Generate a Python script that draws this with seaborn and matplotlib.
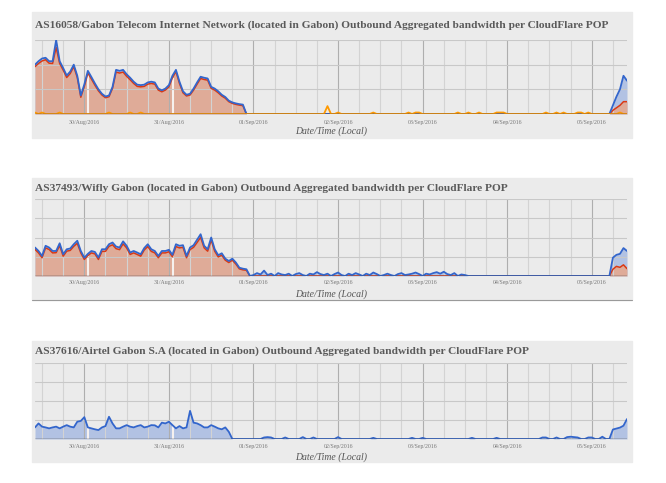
import matplotlib
matplotlib.use("Agg")
import matplotlib.pyplot as plt
import matplotlib.dates as mdates
from matplotlib.patches import Rectangle
import seaborn as sns
import numpy as np
import pandas as pd

# hourly samples, 29/Aug/2016 10:00 -> 05/Sep/2016 10:00 (local time)
start = "2016-08-29 10:00"
n_hours = 169

titles = [
    "AS16058/Gabon Telecom Internet Network (located in Gabon) Outbound Aggregated bandwidth per CloudFlare POP",
    "AS37493/Wifly Gabon (located in Gabon) Outbound Aggregated bandwidth per CloudFlare POP",
    "AS37616/Airtel Gabon S.A (located in Gabon) Outbound Aggregated bandwidth per CloudFlare POP",
]

# values are in "gridline" units (no y labels in the original)
# --- AS16058 Gabon Telecom ---
telecom_blue_head = [2.00, 2.14, 2.25, 2.28, 2.14, 2.14, 3.00, 2.14, 1.86, 1.56,
                     1.72, 2.00, 1.55, 0.75, 1.20, 1.75, 1.50, 1.24, 1.00, 0.82,
                     0.71, 0.75, 1.10, 1.79, 1.75, 1.79, 1.61, 1.47, 1.31, 1.19,
                     1.17, 1.19, 1.28, 1.31, 1.28, 1.03, 0.96, 1.03, 1.17, 1.55,
                     1.79, 1.31, 0.92, 0.78, 0.82, 1.03, 1.28, 1.51, 1.47, 1.44,
                     1.10, 1.03, 0.92, 0.78, 0.69, 0.54, 0.47, 0.43, 0.40, 0.38,
                     0.0]
telecom_red_head = [1.92, 2.05, 2.15, 2.20, 2.06, 2.05, 2.70, 2.05, 1.78, 1.48,
                    1.64, 1.92, 1.48, 0.68, 1.12, 1.66, 1.42, 1.17, 0.94, 0.77,
                    0.66, 0.70, 1.04, 1.70, 1.66, 1.70, 1.53, 1.39, 1.24, 1.12,
                    1.10, 1.12, 1.21, 1.24, 1.21, 0.97, 0.90, 0.97, 1.10, 1.47,
                    1.72, 1.24, 0.86, 0.73, 0.77, 0.97, 1.21, 1.44, 1.40, 1.37,
                    1.04, 0.97, 0.86, 0.73, 0.64, 0.50, 0.43, 0.39, 0.36, 0.34,
                    0.0]
telecom_blue_tail = [0.0, 0.35, 0.70, 1.00, 1.55, 1.35]
telecom_red_tail = [0.0, 0.15, 0.25, 0.35, 0.50, 0.50]
telecom_orange_hours = [0, 2, 7, 21, 27, 30, 83, 86, 96, 106, 108, 109, 120, 123,
                        126, 131, 132, 133, 145, 148, 150, 154, 155, 157, 166]
telecom_orange_vals = [0.06, 0.06, 0.06, 0.06, 0.06, 0.06, 0.32, 0.06, 0.06, 0.06,
                       0.06, 0.06, 0.06, 0.06, 0.06, 0.06, 0.06, 0.06, 0.06, 0.06,
                       0.06, 0.06, 0.06, 0.06, 0.06]

# --- AS37493 Wifly Gabon ---
wifly_blue_head = [1.48, 1.30, 1.04, 1.57, 1.48, 1.30, 1.30, 1.70, 1.13, 1.39,
                   1.43, 1.65, 1.83, 1.30, 0.95, 1.15, 1.30, 1.25, 0.96, 1.39,
                   1.39, 1.65, 1.74, 1.53, 1.48, 1.80, 1.57, 1.22, 1.30, 1.22,
                   1.13, 1.45, 1.65, 1.39, 1.30, 1.04, 1.30, 1.30, 1.36, 1.10,
                   1.65, 1.57, 1.60, 1.04, 1.48, 1.60, 1.88, 2.17, 1.57, 1.39,
                   2.00, 1.39, 1.08, 1.18, 0.90, 0.78, 0.90, 0.70, 0.43, 0.38,
                   0.35, 0.0]
wifly_red_head = [1.38, 1.20, 0.95, 1.46, 1.38, 1.20, 1.21, 1.58, 1.03, 1.29,
                  1.33, 1.54, 1.70, 1.20, 0.86, 1.06, 1.20, 1.15, 0.86, 1.28,
                  1.28, 1.54, 1.62, 1.42, 1.37, 1.67, 1.46, 1.12, 1.20, 1.12,
                  1.03, 1.35, 1.53, 1.28, 1.20, 0.95, 1.20, 1.20, 1.26, 1.00,
                  1.53, 1.46, 1.49, 0.95, 1.37, 1.49, 1.74, 2.01, 1.46, 1.29,
                  1.86, 1.29, 0.99, 1.08, 0.82, 0.70, 0.82, 0.62, 0.37, 0.32,
                  0.30, 0.0]
wifly_blue_mid_start = 62
wifly_blue_mid = [0.05, 0.15, 0.08, 0.28, 0.05, 0.12, 0.0, 0.15, 0.08, 0.05,
                  0.12, 0.0, 0.10, 0.15, 0.05, 0.0, 0.12, 0.08, 0.20, 0.10,
                  0.05, 0.12, 0.0, 0.10, 0.18, 0.05, 0.0, 0.12, 0.05, 0.15,
                  0.08, 0.0, 0.12, 0.05, 0.18, 0.10, 0.0, 0.05, 0.12, 0.05,
                  0.0, 0.10, 0.15, 0.05, 0.08, 0.12, 0.18, 0.10, 0.0, 0.12,
                  0.08, 0.15, 0.20, 0.12, 0.22, 0.10, 0.05, 0.15, 0.0, 0.08,
                  0.05, 0.0, 0.0]
wifly_blue_tail = [0.0, 0.95, 1.10, 1.15, 1.45, 1.30]
wifly_red_tail = [0.0, 0.35, 0.50, 0.45, 0.58, 0.38]

# --- AS37616 Airtel Gabon ---
airtel_blue_head = [0.61, 0.82, 0.65, 0.61, 0.56, 0.61, 0.65, 0.56, 0.65, 0.73,
                    0.65, 0.61, 0.91, 0.95, 1.15, 0.61, 0.56, 0.51, 0.47, 0.61,
                    0.68, 1.17, 0.82, 0.56, 0.56, 0.65, 0.73, 0.65, 0.61, 0.68,
                    0.73, 0.61, 0.65, 0.73, 0.72, 0.61, 0.86, 0.82, 0.91, 0.73,
                    0.56, 0.68, 0.56, 0.61, 1.48, 0.86, 0.82, 0.73, 0.61, 0.61,
                    0.73, 0.65, 0.56, 0.51, 0.61, 0.38, 0.0]
airtel_blip_hours = [65, 66, 67, 71, 76, 79, 86, 96, 107, 110, 124, 131, 144, 145,
                     148, 151, 152, 153, 154, 157, 158, 161]
airtel_blip_vals = [0.08, 0.10, 0.08, 0.08, 0.10, 0.08, 0.10, 0.06, 0.06, 0.06, 0.06,
                    0.06, 0.08, 0.08, 0.08, 0.10, 0.12, 0.10, 0.08, 0.08, 0.08, 0.12]
airtel_blue_tail = [0.0, 0.50, 0.55, 0.60, 0.70, 1.05]

# missing-data gaps (hours from start)
gap_hours = [15.1, 39.2]


def series(head=(), tail=(), mid=(), mid_start=0, blip_hours=(), blip_vals=()):
    s = np.zeros(n_hours)
    s[:len(head)] = head
    if len(mid):
        s[mid_start:mid_start + len(mid)] = mid
    if len(tail):
        s[n_hours - len(tail):] = tail
    if len(blip_hours):
        s[list(blip_hours)] = blip_vals
    return s


times = pd.date_range(start, periods=n_hours, freq="h")
hours = np.arange(n_hours)

BLUE, RED, ORANGE = "#3366cc", "#dc3912", "#ff9900"
BLUE_FILL, RED_FILL = "#b2c2e3", "#dfab98"
BG = "#ebebeb"

panels = [
    dict(title=titles[0], n_grid=3,
         blue=series(telecom_blue_head, telecom_blue_tail),
         red=series(telecom_red_head, telecom_red_tail),
         orange=series(blip_hours=telecom_orange_hours, blip_vals=telecom_orange_vals),
         box=(12, 138), plot=(40, 114), title_y=28, tick_y=123, label_y=131),
    dict(title=titles[1], n_grid=4,
         blue=series(wifly_blue_head, wifly_blue_tail, wifly_blue_mid, wifly_blue_mid_start),
         red=series(wifly_red_head, wifly_red_tail),
         orange=None,
         box=(178, 300), plot=(199, 276), title_y=191, tick_y=283, label_y=294),
    dict(title=titles[2], n_grid=4,
         blue=series(airtel_blue_head, airtel_blue_tail,
                     blip_hours=airtel_blip_hours, blip_vals=airtel_blip_vals),
         red=None,
         orange=None,
         box=(341, 462), plot=(363, 439), title_y=354, tick_y=447, label_y=457),
]

sns.set_style("white")
plt.rcParams["font.family"] = ["Liberation Serif", "DejaVu Serif"]

W, H = 666, 483
fig = plt.figure(figsize=(W / 100, H / 100), dpi=100)
fig.patch.set_facecolor("white")

x0, x1 = 35, 627
for p in panels:
    top, bottom = p["plot"]
    btop, bbot = p["box"]
    fig.patches.append(Rectangle((32 / W, 1 - bbot / H), 600 / W, (bbot - btop) / H,
                                 transform=fig.transFigure, color=BG, zorder=-5))
    ax = fig.add_axes([x0 / W, 1 - bottom / H, (x1 - x0) / W, (bottom - top) / H])
    ax.set_facecolor(BG)
    h_px = bottom - top

    ax.fill_between(times, 0, p["blue"], color=BLUE_FILL, lw=0, zorder=1)
    if p["red"] is not None:
        ax.fill_between(times, 0, p["red"], color=RED_FILL, lw=0, zorder=1.1)
    gap_t = pd.to_datetime(start) + pd.to_timedelta(gap_hours, unit="h")
    gap_v = np.interp(gap_hours, hours, p["blue"] if p["red"] is None else p["red"])
    ax.vlines(gap_t, 0, gap_v * 0.97, color="#f6f1ef", lw=1.5, zorder=1.2)

    if p["red"] is not None:
        sns.lineplot(x=times, y=p["red"], color=RED, lw=1.1, ax=ax, zorder=2.1)
    sns.lineplot(x=times, y=p["blue"], color=BLUE, lw=1.3, ax=ax, zorder=2.2)
    if p["orange"] is not None:
        sns.lineplot(x=times, y=p["orange"], color=ORANGE, lw=1.3, ax=ax, zorder=2.3)
    ax.axhline(0, color="#3a3a3a", lw=1.0, zorder=3)

    ax.set_xlim(times[0], times[-1])
    ax.set_ylim(0, p["n_grid"])
    ax.set_yticks(range(p["n_grid"] + 1))
    ax.set_yticklabels([])
    ax.xaxis.set_major_locator(mdates.DayLocator())
    ax.xaxis.set_minor_locator(mdates.HourLocator(byhour=[0, 6, 12, 18]))
    ax.xaxis.set_major_formatter(mdates.DateFormatter("%d/%b/%Y"))
    ax.set_axisbelow("line")
    ax.grid(True, which="major", axis="x", color="#aeaeae", lw=0.8)
    ax.grid(True, which="minor", axis="x", color="#d3d3d3", lw=0.8)
    ax.grid(True, which="major", axis="y", color="#c8c8c8", lw=0.8)
    ax.tick_params(which="both", length=0)
    ax.tick_params(axis="x", labelsize=4.2, labelcolor="#777777",
                   pad=(p["tick_y"] - bottom - 3) * 0.72)
    for s in ax.spines.values():
        s.set_visible(False)

    ax.set_xlabel("Date/Time (Local)", fontsize=7, style="italic", color="#555555")
    ax.xaxis.label.set_va("center")
    ax.xaxis.set_label_coords(0.5, -(p["label_y"] - bottom) / h_px)
    ax.set_ylabel("")
    ax.text(0.0, (bottom - p["title_y"]) / h_px, p["title"], transform=ax.transAxes,
            ha="left", va="baseline", fontsize=8.2, fontweight="bold", color="#5a5a5a")

# thin border under the middle panel
fig.add_artist(plt.Line2D([32 / W, 632 / W], [1 - 300 / H, 1 - 300 / H],
                          color="#9a9a9a", lw=0.8, transform=fig.transFigure))

fig.savefig("out.png", dpi=100)
